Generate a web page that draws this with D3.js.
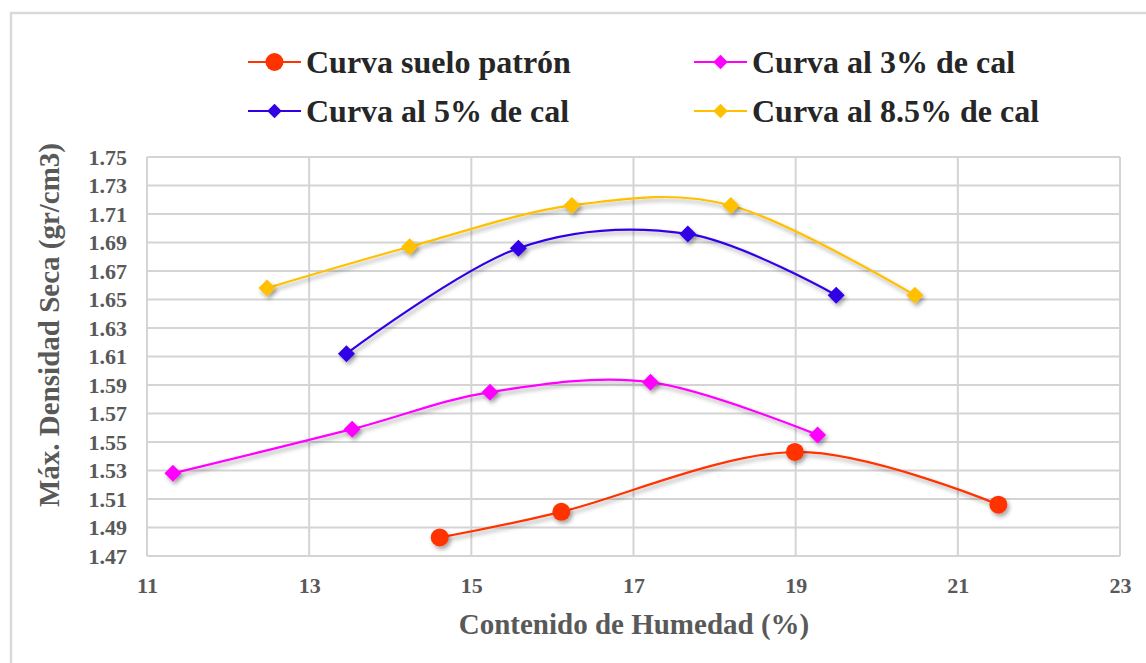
<!DOCTYPE html>
<html>
<head>
<meta charset="utf-8">
<script src="https://cdn.jsdelivr.net/npm/d3@7/dist/d3.min.js"></script>
<style>
  html, body { margin: 0; padding: 0; background: #fff; }
  svg { display: block; }
</style>
</head>
<body>
<svg id="chart" width="1146" height="663"></svg>
<script>
// Compaction curves: dry density vs. moisture content
const seriesNames = ["Curva suelo patrón", "Curva al 3% de cal", "Curva al 5% de cal", "Curva al 8.5% de cal"];
const seriesColors = ["#FF3300", "#FF00FF", "#3300E6", "#FFC000"];
const seriesMarkers = ["circle", "diamond", "diamond", "diamond"];

const humedadPatron = [14.61, 16.11, 18.99, 21.50];
const densidadPatron = [1.483, 1.501, 1.543, 1.506];

const humedadCal3 = [11.32, 13.53, 15.23, 17.21, 19.27];
const densidadCal3 = [1.528, 1.559, 1.585, 1.592, 1.555];

const humedadCal5 = [13.46, 15.58, 17.67, 19.50];
const densidadCal5 = [1.612, 1.686, 1.696, 1.653];

const humedadCal85 = [12.48, 14.24, 16.24, 18.20, 20.47];
const densidadCal85 = [1.658, 1.687, 1.716, 1.716, 1.653];

const xTicks = [11, 13, 15, 17, 19, 21, 23];
const yTicks = [1.47, 1.49, 1.51, 1.53, 1.55, 1.57, 1.59, 1.61, 1.63, 1.65, 1.67, 1.69, 1.71, 1.73, 1.75];

const xTitle = "Contenido de Humedad (%)";
const yTitle = "Máx. Densidad Seca (gr/cm3)";

const seriesX = [humedadPatron, humedadCal3, humedadCal5, humedadCal85];
const seriesY = [densidadPatron, densidadCal3, densidadCal5, densidadCal85];
const series = seriesNames.map((name, i) => ({
  name, color: seriesColors[i], marker: seriesMarkers[i],
  points: seriesX[i].map((x, j) => ({ x, y: seriesY[i][j] }))
}));

const svg = d3.select("#chart");
const serif = '"Liberation Serif", "Times New Roman", Tinos, serif';
function styleText(sel, size, color) {
  sel.style("font-family", serif).style("font-weight", "bold")
    .style("font-size", size + "px").attr("fill", color);
}

const plot = { left: 147, right: 1120, top: 157, bottom: 556 };
const x = d3.scaleLinear().domain([11, 23]).range([plot.left, plot.right]);
const y = d3.scaleLinear().domain([1.47, 1.75]).range([plot.bottom, plot.top]);

// soft drop shadow used by lines and markers
const defs = svg.append("defs");
const f = defs.append("filter").attr("id", "shadow")
  .attr("x", "-50%").attr("y", "-50%").attr("width", "200%").attr("height", "200%");
f.append("feDropShadow").attr("dx", 2).attr("dy", 3).attr("stdDeviation", 2)
  .attr("flood-color", "#000").attr("flood-opacity", 0.35);

// outer chart frame (top and left edges visible)
svg.append("path")
  .attr("d", "M11,663 L11,13 L1146,13")
  .attr("fill", "none").attr("stroke", "#d9d9d9").attr("stroke-width", 2.5);

// gridlines
const grid = svg.append("g");
grid.selectAll("line.h").data(yTicks).join("line")
  .attr("x1", plot.left).attr("x2", plot.right)
  .attr("y1", d => y(d)).attr("y2", d => y(d))
  .attr("stroke", "#d4d4d4").attr("stroke-width", 2);
grid.selectAll("line.v").data(xTicks).join("line")
  .attr("y1", plot.top).attr("y2", plot.bottom)
  .attr("x1", d => x(d)).attr("x2", d => x(d))
  .attr("stroke", "#d4d4d4").attr("stroke-width", 2);

// axes
const xAxis = svg.append("g").attr("transform", `translate(0,${plot.bottom})`)
  .call(d3.axisBottom(x).tickValues(xTicks).tickSize(0).tickPadding(21).tickFormat(d3.format("d")));
const yAxis = svg.append("g").attr("transform", `translate(${plot.left},0)`)
  .call(d3.axisLeft(y).tickValues(yTicks).tickSize(0).tickPadding(20).tickFormat(d3.format(".2f")));
[xAxis, yAxis].forEach(a => {
  a.select(".domain").remove();
  styleText(a.selectAll("text"), 22, "#595959");
});

// lines
const line = d3.line().x(d => x(d.x)).y(d => y(d.y)).curve(d3.curveCardinal.tension(0));
const lineLayer = svg.append("g").attr("filter", "url(#shadow)");
series.forEach(s => {
  lineLayer.append("path").datum(s.points)
    .attr("d", line).attr("fill", "none")
    .attr("stroke", s.color).attr("stroke-width", 2.2);
});

function drawMarker(g, type, cx, cy, color, scale) {
  if (type === "circle") {
    g.append("circle").attr("cx", cx).attr("cy", cy).attr("r", 9 * scale).attr("fill", color);
  } else {
    const hw = 8.5 * scale, hh = 8.5 * scale;
    g.append("path")
      .attr("d", `M${cx},${cy - hh} L${cx + hw},${cy} L${cx},${cy + hh} L${cx - hw},${cy} Z`)
      .attr("fill", color);
  }
}

// markers
const markerLayer = svg.append("g").attr("filter", "url(#shadow)");
series.forEach(s => {
  s.points.forEach(p => drawMarker(markerLayer, s.marker, x(p.x), y(p.y), s.color, 1));
});

// legend
const legendPos = [[248, 62], [694, 62], [248, 111], [694, 111]];
const legend = svg.append("g");
series.forEach((s, i) => {
  const [lx, ly] = legendPos[i];
  legend.append("line").attr("x1", lx).attr("x2", lx + 53).attr("y1", ly).attr("y2", ly)
    .attr("stroke", s.color).attr("stroke-width", 2.2);
  drawMarker(legend, s.marker, lx + 26.5, ly, s.color, s.marker === "circle" ? 1 : 0.85);
  const t = legend.append("text").attr("x", lx + 58).attr("y", ly + 10.5).text(s.name);
  styleText(t, 32, "#262626");
});

// axis titles
styleText(svg.append("text").attr("x", 634).attr("y", 634).attr("text-anchor", "middle").text(xTitle), 29, "#595959");
styleText(svg.append("text").attr("transform", "translate(59,325) rotate(-90)").attr("text-anchor", "middle").text(yTitle), 29, "#595959");
</script>
</body>
</html>
